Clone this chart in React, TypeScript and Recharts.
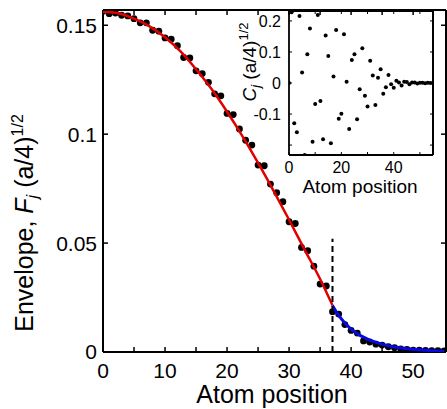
import React from "react";
import { ComposedChart, ScatterChart, Scatter, Line, XAxis, YAxis, ReferenceLine } from "recharts";

const FONT = "'Liberation Sans', Arial, Helvetica, sans-serif";

// main panel: envelope F_j sampled at every atom
const atomPositions = [
  0, 1, 2, 3, 4, 5, 6, 7, 8, 9, 10, 11, 12, 13, 14, 15, 16, 17, 18, 19, 20, 21, 22, 23, 24, 25, 26, 27,
  28, 29, 30, 31, 32, 33, 34, 35, 36, 37, 38, 39, 40, 41, 42, 43, 44, 45, 46, 47, 48, 49, 50, 51, 52, 53, 54, 55,
];
const envelope = [
  0.1564, 0.1553, 0.1556, 0.1546, 0.1543, 0.153, 0.1511, 0.1511, 0.1477, 0.1473, 0.1442, 0.1436, 0.1406, 0.1352,
  0.135, 0.1291, 0.1278, 0.1238, 0.1185, 0.1176, 0.1095, 0.109, 0.1024, 0.0972, 0.095, 0.0858, 0.0855, 0.0771,
  0.0731, 0.069, 0.0598, 0.059, 0.048, 0.0465, 0.0394, 0.0312, 0.0303, 0.0185, 0.0174, 0.0126, 0.0099, 0.0087,
  0.0051, 0.0046, 0.0036, 0.0032, 0.0024, 0.002, 0.0014, 0.0012, 0.0009, 0.0008, 0.0007, 0.0006, 0.0006, 0.0005,
];

// fitted curves
const redFitX = [0, 2.5, 5, 7.5, 10, 12.5, 15, 17.5, 20, 22.5, 25, 27.5, 30, 32.5, 35, 37];
const redFitY = [
  0.1562, 0.1555, 0.153, 0.1495, 0.1445, 0.138, 0.1298, 0.1207, 0.1103, 0.099, 0.0868, 0.074, 0.0607, 0.047,
  0.0335, 0.0214,
];
const blueFitX = [37, 38, 39, 40, 41, 42, 43, 44, 45, 47, 49, 51, 53, 55];
const blueFitY = [0.0214, 0.0168, 0.0133, 0.0105, 0.0084, 0.0068, 0.0055, 0.0045, 0.0036, 0.0023, 0.0015, 0.001, 0.0006, 0.0004];

const cutPosition = 37;
const cutTop = 0.052;

const mainXMax = 55.3;
const mainYMax = 0.157;
const mainXTicks = [0, 5, 10, 15, 20, 25, 30, 35, 40, 45, 50];
const mainYTicks = [0, 0.05, 0.1, 0.15];
const mainYLabels = ["0", "0.05", "0.1", "0.15"];

// inset: coefficients C_j
const insetPositions = atomPositions;
const coefficients = [
  0, 0.228, -0.13, -0.159, 0.216, 0.034, -0.232, 0.093, 0.176, -0.189, -0.068, 0.219, -0.058, -0.181, 0.153,
  0.087, -0.194, 0.021, 0.171, -0.115, -0.099, 0.157, 0.004, -0.148, 0.074, 0.093, -0.117, -0.02, 0.112, -0.041,
  -0.076, 0.072, 0.024, -0.071, 0.017, 0.044, -0.035, -0.014, 0.026, -0.004, -0.015, 0.007, 0.002, -0.008, 0.004,
  0.003, -0.004, 0.002, 0.002, -0.002, 0.001, 0.001, -0.001, 0.001, 0, 0,
];
const insetXMax = 55;
const insetYMax = 0.232;
const insetXTicks = [0, 10, 20, 30, 40, 50];
const insetXLabelled = [0, 20, 40];
const insetYTicks = [-0.2, -0.1, 0, 0.1, 0.2];
const insetYLabelled = [-0.1, 0, 0.1, 0.2];

const mainPoints = atomPositions.map((x, i) => ({ x, y: envelope[i] }));
const redPoints = redFitX.map((x, i) => ({ x, y: redFitY[i] }));
const bluePoints = blueFitX.map((x, i) => ({ x, y: blueFitY[i] }));
const insetPoints = insetPositions.map((x, i) => ({ x, y: coefficients[i] }));

const tickStyle = { fill: "#000", fontSize: 21, fontFamily: FONT };
const insetTickStyle = { fill: "#000", fontSize: 16, fontFamily: FONT };
const hiddenTick = { fill: "none", fontSize: 1 };
const frame = { stroke: "#000", strokeWidth: 2 };
const insetFrame = { stroke: "#000", strokeWidth: 1.8 };
const mainTick = { stroke: "#000", strokeWidth: 1.5 };
const insetTick = { stroke: "#000", strokeWidth: 1 };
const blank = () => "";

function MainYLabel() {
  return (
    <text transform="translate(33,223) rotate(-90)" textAnchor="middle" fontSize={25} fontFamily={FONT} fill="#000">
      Envelope, <tspan fontStyle="italic">F</tspan>
      <tspan fontStyle="italic" fontSize={16} dy={5}>j</tspan>
      <tspan dy={-5}> (a/4)</tspan>
      <tspan fontSize={16} dy={-10}>1/2</tspan>
    </text>
  );
}

function MainXLabel() {
  return (
    <text x={272} y={403} textAnchor="middle" fontSize={25} fontFamily={FONT} fill="#000">
      Atom position
    </text>
  );
}

function InsetYLabel() {
  return (
    <text transform="translate(26,62) rotate(-90)" textAnchor="middle" fontSize={19} fontFamily={FONT} fill="#000">
      <tspan fontStyle="italic">C</tspan>
      <tspan fontStyle="italic" fontSize={13} dy={4}>j</tspan>
      <tspan dy={-4}> (a/4)</tspan>
      <tspan fontSize={13} dy={-8}>1/2</tspan>
    </text>
  );
}

function InsetXLabel() {
  return (
    <text x={130} y={193} textAnchor="middle" fontSize={19} fontFamily={FONT} fill="#000">
      Atom position
    </text>
  );
}

const Dot = (p: any) => <circle cx={p.cx} cy={p.cy} r={3.4} fill="#000" />;
const SmallDot = (p: any) => <circle cx={p.cx} cy={p.cy} r={2} fill="#000" />;

export default function App() {
  return (
    <div style={{ position: "fixed", left: 0, top: 0, width: 447, height: 409, background: "#fff" }}>
      <ComposedChart width={447} height={409} margin={{ top: 9, right: 0, left: 0, bottom: 0 }}>
        <XAxis
          xAxisId="bottom"
          dataKey="x"
          type="number"
          domain={[0, mainXMax]}
          allowDataOverflow
          ticks={mainXTicks}
          tickFormatter={(v: number) => (v % 10 === 0 ? String(v) : "")}
          height={57}
          tick={tickStyle}
          tickSize={-5}
          tickMargin={16}
          axisLine={frame}
          tickLine={mainTick}
          label={<MainXLabel />}
        />
        <XAxis
          xAxisId="top"
          orientation="top"
          dataKey="x"
          type="number"
          domain={[0, mainXMax]}
          allowDataOverflow
          ticks={mainXTicks}
          height={1}
          tick={hiddenTick}
          tickFormatter={blank}
          tickSize={-5}
          axisLine={frame}
          tickLine={mainTick}
        />
        <YAxis
          yAxisId="left"
          dataKey="y"
          type="number"
          domain={[0, mainYMax]}
          allowDataOverflow
          ticks={mainYTicks}
          tickFormatter={(v: number) => mainYLabels[mainYTicks.indexOf(v)] ?? ""}
          width={103}
          tick={tickStyle}
          tickSize={-5}
          tickMargin={11}
          axisLine={frame}
          tickLine={mainTick}
          label={<MainYLabel />}
        />
        <YAxis
          yAxisId="right"
          orientation="right"
          dataKey="y"
          type="number"
          domain={[0, mainYMax]}
          allowDataOverflow
          ticks={mainYTicks}
          width={1}
          tick={hiddenTick}
          tickFormatter={blank}
          tickSize={-5}
          axisLine={frame}
          tickLine={mainTick}
        />
        <Scatter
          xAxisId="bottom"
          yAxisId="left"
          data={mainPoints}
          dataKey="y"
          shape={Dot}
          isAnimationActive={false}
        />
        <Line
          xAxisId="bottom"
          yAxisId="left"
          data={redPoints}
          dataKey="y"
          type="monotone"
          stroke="#e00000"
          strokeWidth={2.5}
          dot={false}
          zIndex={700}
          isAnimationActive={false}
        />
        <Line
          xAxisId="top"
          yAxisId="right"
          data={bluePoints}
          dataKey="y"
          type="monotone"
          stroke="#0808e0"
          strokeWidth={3}
          dot={false}
          zIndex={700}
          isAnimationActive={false}
        />
        <ReferenceLine
          xAxisId="bottom"
          yAxisId="left"
          segment={[
            { x: cutPosition, y: 0 },
            { x: cutPosition, y: cutTop },
          ]}
          stroke="#000"
          strokeWidth={2}
          strokeDasharray="6 4"
          zIndex={800}
        />
        <ReferenceLine
          xAxisId="bottom"
          yAxisId="left"
          segment={[
            { x: 0, y: mainYMax },
            { x: mainXMax, y: mainYMax },
          ]}
          stroke="#000"
          strokeWidth={2}
          ifOverflow="visible"
          zIndex={800}
        />
        <ReferenceLine
          xAxisId="bottom"
          yAxisId="left"
          segment={[
            { x: mainXMax, y: 0 },
            { x: mainXMax, y: mainYMax },
          ]}
          stroke="#000"
          strokeWidth={2}
          ifOverflow="visible"
          zIndex={800}
        />
      </ComposedChart>

      <div style={{ position: "absolute", left: 230, top: 0 }}>
        <ScatterChart width={210} height={200} margin={{ top: 10, right: 6, left: 0, bottom: 0 }}>
          <XAxis
            xAxisId="bottom"
            dataKey="x"
            type="number"
            domain={[0, insetXMax]}
            allowDataOverflow
            ticks={insetXTicks}
            tickFormatter={(v: number) => (insetXLabelled.includes(v) ? String(v) : "")}
            height={45}
            tick={insetTickStyle}
            tickSize={-3}
            tickMargin={10}
            axisLine={insetFrame}
            tickLine={insetTick}
            label={<InsetXLabel />}
          />
          <XAxis
            xAxisId="top"
            orientation="top"
            dataKey="x"
            type="number"
            domain={[0, insetXMax]}
            allowDataOverflow
            ticks={insetXTicks}
            height={1}
            tick={hiddenTick}
            tickFormatter={blank}
            tickSize={-3}
            axisLine={insetFrame}
            tickLine={insetTick}
          />
          <YAxis
            yAxisId="left"
            dataKey="y"
            type="number"
            domain={[-insetYMax, insetYMax]}
            allowDataOverflow
            ticks={insetYTicks}
            tickFormatter={(v: number) => (insetYLabelled.includes(v) ? String(v) : "")}
            width={59}
            tick={insetTickStyle}
            tickSize={-3}
            tickMargin={11}
            axisLine={insetFrame}
            tickLine={insetTick}
            label={<InsetYLabel />}
          />
          <YAxis
            yAxisId="right"
            orientation="right"
            dataKey="y"
            type="number"
            domain={[-insetYMax, insetYMax]}
            allowDataOverflow
            ticks={insetYTicks}
            width={1}
            tick={hiddenTick}
            tickFormatter={blank}
            tickSize={-3}
            axisLine={insetFrame}
            tickLine={insetTick}
          />
          <Scatter
            xAxisId="bottom"
            yAxisId="left"
            data={insetPoints}
            dataKey="y"
            shape={SmallDot}
            isAnimationActive={false}
          />
          <ReferenceLine
            xAxisId="bottom"
            yAxisId="left"
            segment={[
              { x: 0, y: insetYMax },
              { x: insetXMax, y: insetYMax },
            ]}
            stroke="#000"
            strokeWidth={1.8}
            ifOverflow="visible"
            zIndex={800}
          />
          <ReferenceLine
            xAxisId="bottom"
            yAxisId="left"
            segment={[
              { x: insetXMax, y: -insetYMax },
              { x: insetXMax, y: insetYMax },
            ]}
            stroke="#000"
            strokeWidth={1.8}
            ifOverflow="visible"
            zIndex={800}
          />
        </ScatterChart>
      </div>
    </div>
  );
}
